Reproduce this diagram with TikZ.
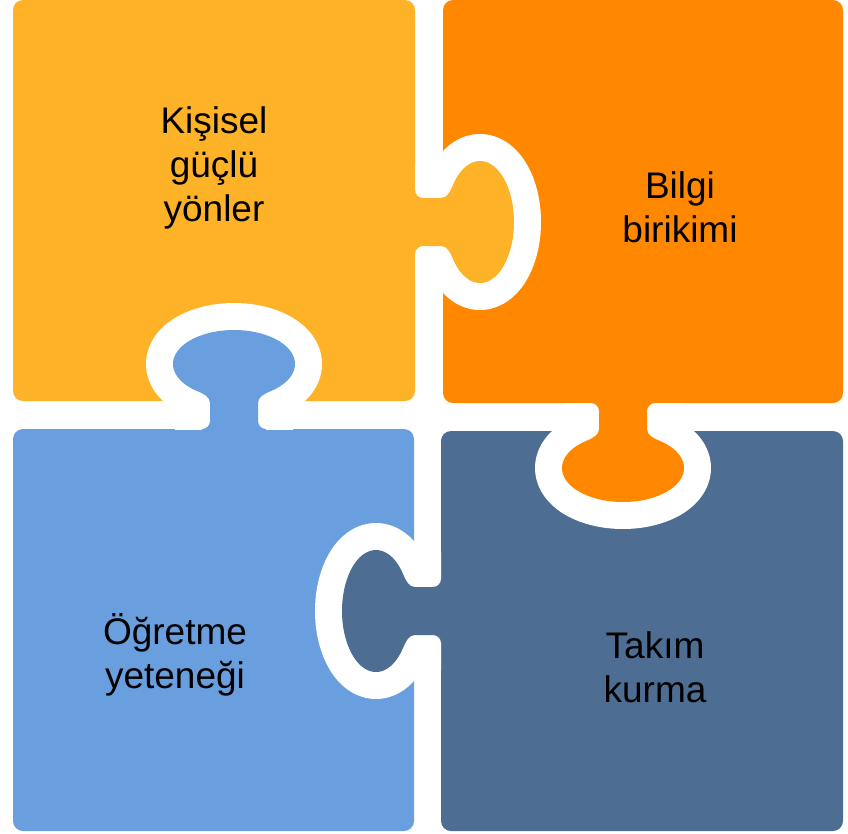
\documentclass[tikz,border=0pt]{standalone}
\usepackage{fontspec}
\setmainfont{Liberation Sans}
\definecolor{pyel}{RGB}{254,178,40}
\definecolor{porg}{RGB}{255,136,0}
\definecolor{pltb}{RGB}{106,159,223}
\definecolor{pdkb}{RGB}{78,109,147}
\newcommand\tabshape{(-40,32) -- (0,32) .. controls (0,27.6) and (3.6,24) .. (8,24) -- (26,24) .. controls (32,24) and (34.9,29.7) .. (38,37.1) -- plot[domain=142.6:-142.6,samples=80] ({65+34*cos(\x)},{61*sin(\x)}) .. controls (34.9,-29.7) and (32,-24) .. (26,-24) -- (8,-24) .. controls (3.6,-24) and (0,-27.6) .. (0,-32) -- (-40,-32) -- cycle}
\newcommand\puzzletab[2]{%
  \begin{scope}\clip (0,-200) rectangle (200,200);
    \draw[white, line width=54pt, line join=round] \tabshape;
  \end{scope}
  \fill[#1] \tabshape;}
\tikzset{
  body/.style={rounded corners=10pt},
  lbl/.style={align=center, text=black, font=\fontsize{37}{44}\selectfont, inner sep=0pt}
}
\begin{document}
\begin{tikzpicture}[x=1pt,y=-1pt]
\useasboundingbox (0,0) rectangle (848,833);
% bodies
\fill[pyel, body] (13,0) rectangle (415,401);
\fill[porg, body] (443,0) rectangle (843,403);
\fill[pltb, body] (13,429) rectangle (414,831);
\fill[pdkb, body] (441,431) rectangle (843,831);
% tabs
\begin{scope}[shift={(415,222)}, x={(1pt,0pt)}, y={(0pt,1pt)}]
  \puzzletab{pyel}{}
\end{scope}
\begin{scope}[shift={(234,429)}, x={(0pt,1pt)}, y={(1pt,0pt)}]
  \puzzletab{pltb}{}
\end{scope}
\begin{scope}[shift={(623,403)}, x={(0pt,-1pt)}, y={(1pt,0pt)}]
  \puzzletab{porg}{}
\end{scope}
\begin{scope}[shift={(441,611)}, x={(-1pt,0pt)}, y={(0pt,1pt)}]
  \puzzletab{pdkb}{}
\end{scope}
% labels
\node[lbl] (t1) at (214,168) {Kişisel\\güçlü\\yönler};
\node[lbl] (t2) at (680,207) {Bilgi\\birikimi};
\node[lbl] (t3) at (175,655) {Öğretme\\yeteneği};
\node[lbl] (t4) at (655,667) {Takım\\kurma};
\end{tikzpicture}
\end{document}
